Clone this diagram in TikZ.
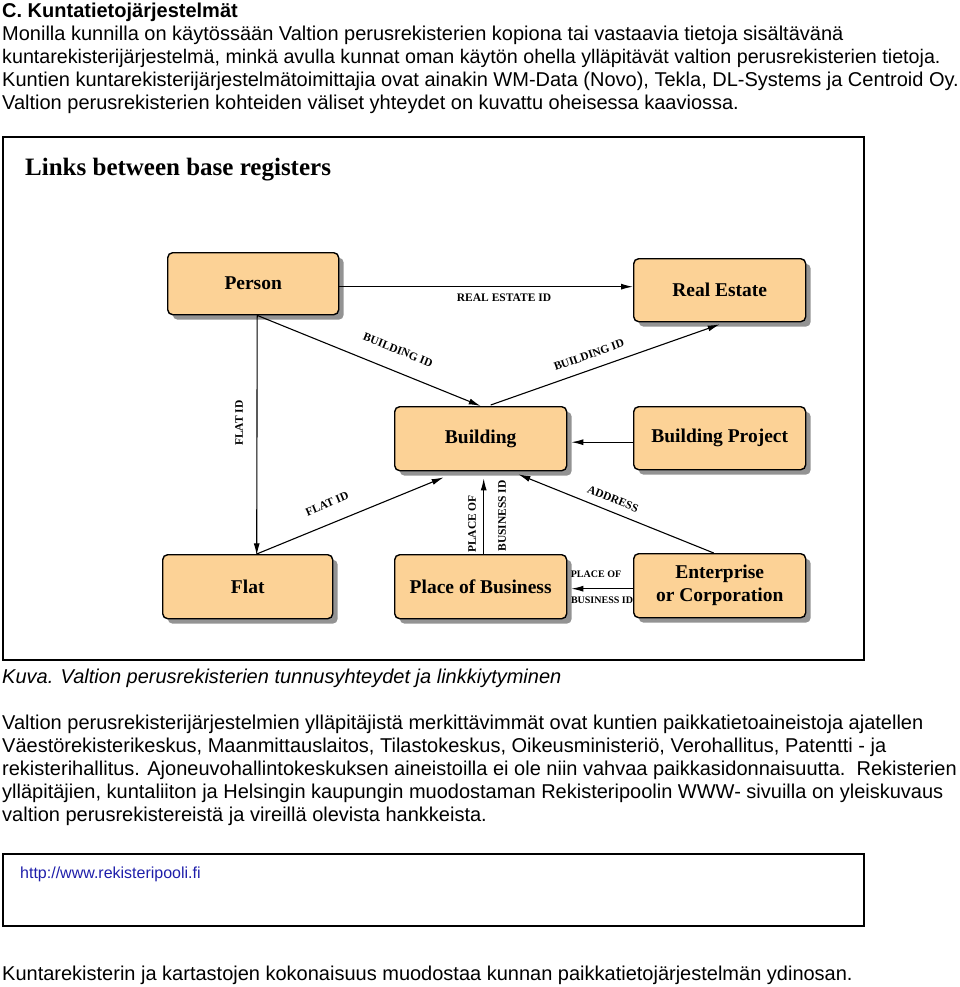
\documentclass[tikz,border=0pt]{standalone}
\usepackage{fontspec}
\setmainfont{Liberation Sans}
\newfontfamily\dserif{Liberation Serif}
\usetikzlibrary{arrows.meta,shadows,calc}
\definecolor{boxfill}{RGB}{252,210,150}
\definecolor{urlblue}{RGB}{30,30,170}
\tikzset{
  txt/.style={anchor=base west, inner sep=0pt, font=\fontsize{20}{23}\selectfont},
  regbox/.style={draw=black, line width=1.4pt, fill=boxfill, rounded corners=5pt,
    anchor=north west, inner sep=0pt, align=center,
    font=\dserif\bfseries\fontsize{19.5}{23}\selectfont,
    drop shadow={shadow xshift=5pt, shadow yshift=-5pt, fill=gray!85, opacity=1}},
  arr/.style={line width=1.1pt, -{Latex[length=12pt,width=6pt]}},
  lbl/.style={inner sep=0pt, font=\dserif\bfseries\fontsize{11.5}{13}\selectfont},
  slbl/.style={inner sep=0pt, font=\dserif\bfseries\fontsize{10}{12}\selectfont},
  frame/.style={draw=black, line width=1.8pt}
}
\begin{document}
\begin{tikzpicture}[x=1pt,y=-1pt]
\useasboundingbox (0,0) rectangle (960,987);
% top text
\node[txt, font=\bfseries\fontsize{20}{23}\selectfont] (t0) at (2,18) {C. Kuntatietojärjestelmät};
\node[txt] (t1) at (2,41) {Monilla kunnilla on käytössään Valtion perusrekisterien kopiona tai vastaavia tietoja sisältävänä};
\node[txt, font=\fontsize{19.7}{23}\selectfont] (t2) at (2,64) {kuntarekisterijärjestelmä, minkä avulla kunnat oman käytön ohella ylläpitävät valtion perusrekisterien tietoja.};
\node[txt] (t3) at (2,87) {Kuntien kuntarekisterijärjestelmätoimittajia ovat ainakin WM-Data (Novo), Tekla, DL-Systems ja Centroid Oy.};
\node[txt] (t4) at (2,110) {Valtion perusrekisterien kohteiden väliset yhteydet on kuvattu oheisessa kaaviossa.};
% diagram frame
\draw[frame] (3,137) rectangle (864,660);
\node[anchor=base west, inner sep=0pt, font=\dserif\bfseries\fontsize{25}{28}\selectfont] (title) at (25,176) {Links between base registers};
% boxes
\node[regbox, minimum width=171pt, minimum height=62pt] (person) at (167,252) {Person};
\node[regbox, minimum width=172pt, minimum height=63pt] (realestate) at (633,258) {Real Estate};
\node[regbox, minimum width=172pt, minimum height=64pt] (building) at (394,406) {Building};
\node[regbox, minimum width=172pt, minimum height=63pt] (bproject) at (633,406) {Building Project};
\node[regbox, minimum width=170pt, minimum height=64pt] (flat) at (162,554) {Flat};
\node[regbox, minimum width=172pt, minimum height=64pt] (pob) at (394,554) {Place of Business};
\node[regbox, minimum width=172pt, minimum height=64pt] (enterprise) at (633,553) {Enterprise\\or Corporation};
% connectors
\draw[arr] ($(person.east)+(0,3)$) -- ($(person.east -| realestate.west)+(0,3)$);
\draw[arr] ($(person.south)+(4,0)$) -- (building.north);
\draw[arr] ($(building.north)+(10,-1)$) -- ($(realestate.south)+(0,2)$);
\draw[arr] ($(person.south)+(4,0)$) -- ($(person.south -| flat.north)+(9,240)$);
\draw[arr] ($(flat.north)+(9,0)$) -- ($(building.south)+(-37,6)$);
\draw[arr] ($(pob.north)+(3,0)$) -- ($(building.south)+(3,7)$);
\draw[arr] ($(bproject.west)+(0,4)$) -- ($(bproject.west -| building.east)+(4,4)$);
\draw[arr] ($(enterprise.north)+(-6,0)$) -- ($(building.south east)+(-49,3)$);
\draw[arr] ($(enterprise.west)+(0,3)$) -- ($(enterprise.west -| pob.east)+(4,3)$);
% labels
\node[lbl] (l1) at (504,298) {REAL ESTATE ID};
\node[lbl, rotate=-22] (l2) at (398,350) {BUILDING ID};
\node[lbl, rotate=19.6] (l3) at (589,355) {BUILDING ID};
\node[lbl, rotate=90] (l4) at (239,423) {FLAT ID};
\node[lbl, rotate=23] (l5) at (327,504) {FLAT ID};
\node[lbl, rotate=90] (l6) at (472,524) {PLACE OF};
\node[lbl, rotate=90] (l7) at (502,516) {BUSINESS ID};
\node[lbl, rotate=-22] (l8) at (613,499) {ADDRESS};
\node[slbl] (l9) at (596,574) {PLACE OF};
\node[slbl] (l10) at (602,600) {BUSINESS ID};
% caption and text
\node[txt, font=\itshape\fontsize{20}{23}\selectfont] (cap) at (2,683) {Kuva. Valtion perusrekisterien tunnusyhteydet ja linkkiytyminen};
\node[txt] (p1) at (2,729) {Valtion perusrekisterijärjestelmien ylläpitäjistä merkittävimmät ovat kuntien paikkatietoaineistoja ajatellen};
\node[txt] (p2) at (2,752) {Väestörekisterikeskus, Maanmittauslaitos, Tilastokeskus, Oikeusministeriö, Verohallitus, Patentti - ja};
\node[txt] (p3) at (2,775) {rekisterihallitus. Ajoneuvohallintokeskuksen aineistoilla ei ole niin vahvaa paikkasidonnaisuutta.\ \ Rekisterien};
\node[txt] (p4) at (2,798) {ylläpitäjien, kuntaliiton ja Helsingin kaupungin muodostaman Rekisteripoolin WWW- sivuilla on yleiskuvaus};
\node[txt] (p5) at (2,821) {valtion perusrekistereistä ja vireillä olevista hankkeista.};
% link box
\draw[frame] (3,854) rectangle (864,926);
\node[txt, font=\fontsize{16}{19}\selectfont, text=urlblue] (url) at (20,878) {http://www.rekisteripooli.fi};
\node[txt] (last) at (2,980) {Kuntarekisterin ja kartastojen kokonaisuus muodostaa kunnan paikkatietojärjestelmän ydinosan.};
\end{tikzpicture}
\end{document}
